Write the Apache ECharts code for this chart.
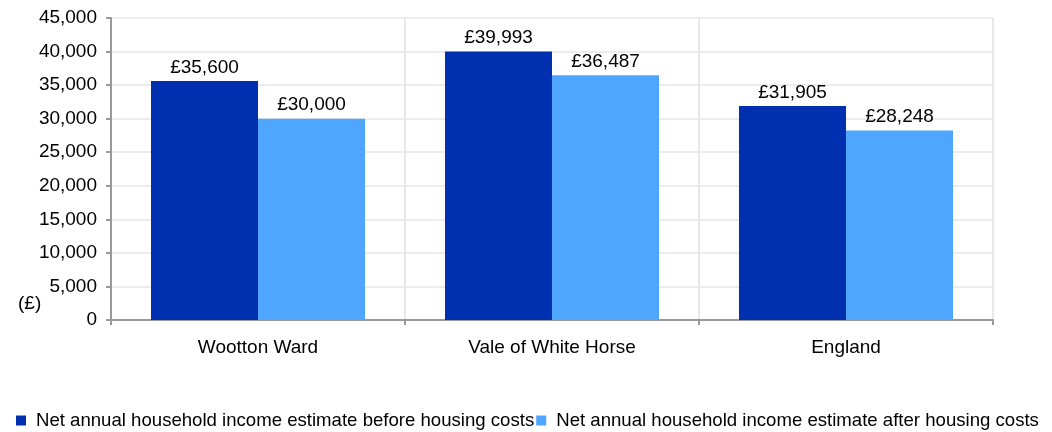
<!DOCTYPE html>
<html>
<head>
<meta charset="utf-8">
<script src="https://cdn.jsdelivr.net/npm/echarts@6/dist/echarts.min.js"></script>
<style>
  html, body { margin: 0; padding: 0; background: #fff; }
  #chart { width: 1052px; height: 432px; }
</style>
</head>
<body>
<div id="chart"></div>
<script>
var areas = ['Wootton Ward', 'Vale of White Horse', 'England'];
var beforeHousing = [35600, 39993, 31905];
var afterHousing = [30000, 36487, 28248];
var seriesNames = [
    'Net annual household income estimate before housing costs',
    'Net annual household income estimate after housing costs'
];

var FONT = '"Liberation Sans", Arial, sans-serif';

function poundLabel(p) {
    return '£' + p.value.toLocaleString('en-GB');
}

var chart = echarts.init(document.getElementById('chart'));
chart.setOption({
    animation: false,
    textStyle: { fontFamily: FONT },
    grid: { left: 111, right: 59, top: 18, bottom: 112, containLabel: false },
    legend: {
        left: 16,
        top: 411,
        padding: 0,
        itemWidth: 10,
        itemHeight: 10,
        itemGap: 2,
        icon: 'rect',
        textStyle: { fontFamily: FONT, fontSize: 18.6, color: '#000', padding: [0, 0, 0, 5] },
        data: seriesNames
    },
    graphic: [{
        type: 'text',
        left: 18,
        top: 294,
        style: { text: '(£)', font: '19px ' + FONT, fill: '#000' }
    }],
    xAxis: {
        type: 'category',
        data: areas,
        axisLine: { lineStyle: { color: '#999', width: 2 } },
        axisTick: { show: true, length: 5, lineStyle: { color: '#999', width: 2 } },
        axisLabel: { color: '#000', fontSize: 19, margin: 18 },
        splitLine: { show: true, lineStyle: { color: '#e8e8e8', width: 2 } }
    },
    yAxis: {
        type: 'value',
        min: 0,
        max: 45000,
        interval: 5000,
        axisLine: { show: true, lineStyle: { color: '#999', width: 2 } },
        axisTick: { show: true, length: 5, lineStyle: { color: '#999', width: 2 } },
        axisLabel: {
            color: '#000', fontSize: 19, margin: 14,
            formatter: function (v) { return v.toLocaleString('en-GB'); }
        },
        splitLine: { lineStyle: { color: '#ececec', width: 2 } }
    },
    series: [{
        name: seriesNames[0],
        type: 'bar',
        data: beforeHousing,
        barWidth: 107,
        barGap: '0%',
        itemStyle: { color: '#002fb0' },
        label: { show: true, position: 'top', color: '#000', fontSize: 19, distance: 4, formatter: poundLabel }
    }, {
        name: seriesNames[1],
        type: 'bar',
        data: afterHousing,
        barWidth: 107,
        barGap: '0%',
        itemStyle: { color: '#4ea6ff' },
        label: { show: true, position: 'top', color: '#000', fontSize: 19, distance: 4, formatter: poundLabel }
    }]
});
</script>
</body>
</html>
